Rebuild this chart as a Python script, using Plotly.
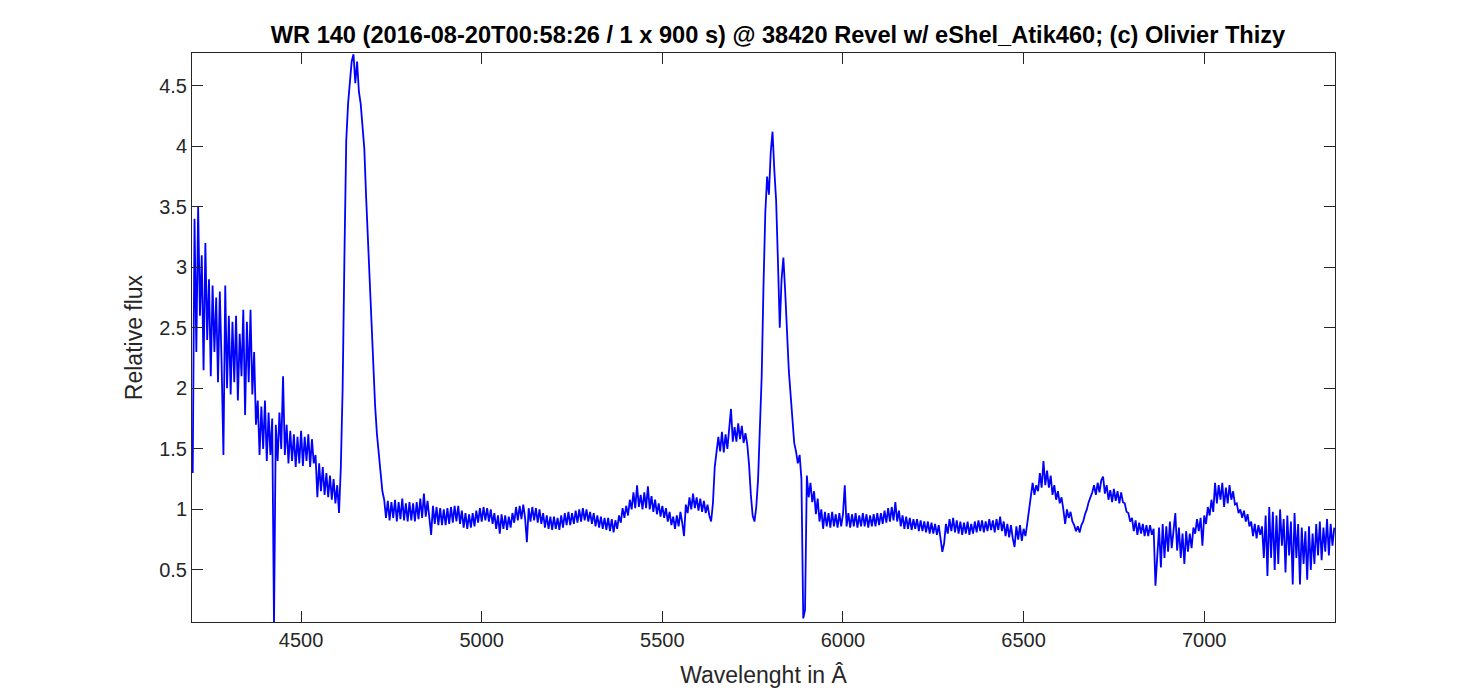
import plotly.graph_objects as go

wl_start = 4200
wl_step = 5
flux = [
    # 4200-4295
    1.30, 3.40, 2.30, 3.50, 2.60, 3.10, 2.15, 3.20, 2.40, 2.90, 2.10, 2.85, 2.30, 2.75, 2.05, 2.80, 2.20, 1.45, 2.85, 2.00,
    # 4300-4395
    2.60, 1.95, 2.55, 2.05, 2.60, 1.90, 2.45, 2.10, 2.65, 1.78, 2.55, 2.05, 2.65, 1.95, 2.30, 1.70, 1.90, 1.45, 1.85, 1.50,
    # 4400-4495
    1.90, 1.40, 1.80, 1.45, 1.75, 0.05, 1.70, 1.40, 1.80, 1.50, 2.10, 1.45, 1.70, 1.38, 1.65, 1.40, 1.62, 1.35, 1.60, 1.38,
    # 4500-4595
    1.65, 1.36, 1.60, 1.40, 1.62, 1.35, 1.58, 1.38, 1.45, 1.10, 1.38, 1.15, 1.35, 1.12, 1.30, 1.10, 1.28, 1.08, 1.25, 1.05,
    # 4600-4695
    1.20, 0.97, 1.35, 2.00, 3.10, 4.05, 4.35, 4.55, 4.70, 4.76, 4.52, 4.70, 4.45, 4.35, 4.15, 3.98, 3.58, 3.22, 2.85, 2.48,
    # 4700-4795
    2.12, 1.85, 1.62, 1.45, 1.25, 1.15, 1.08, 0.93, 1.07, 0.91, 1.06, 0.93, 1.08, 0.90, 1.06, 0.92, 1.09, 0.91, 1.05, 0.90,
    # 4800-4895
    1.06, 0.91, 1.05, 0.90, 1.06, 0.92, 1.09, 0.93, 1.13, 0.94, 1.07, 0.90, 0.79, 1.03, 0.88, 1.02, 0.87, 1.01, 0.87, 1.00,
    # 4900-4995
    0.87, 1.01, 0.88, 1.02, 0.89, 1.03, 0.90, 1.03, 0.88, 0.99, 0.85, 0.97, 0.84, 0.96, 0.85, 0.97, 0.86, 0.99, 0.89, 1.01,
    # 5000-5095
    0.90, 1.02, 0.91, 1.01, 0.90, 1.00, 0.88, 0.97, 0.84, 0.95, 0.80, 0.96, 0.84, 0.95, 0.83, 0.94, 0.85, 0.97, 0.89, 1.02,
    # 5100-5195
    0.91, 1.03, 0.92, 1.04, 0.93, 0.73, 1.01, 0.90, 1.02, 0.91, 1.01, 0.89, 1.00, 0.88, 0.97, 0.85, 0.95, 0.84, 0.94, 0.83,
    # 5200-5295
    0.94, 0.84, 0.93, 0.83, 0.95, 0.85, 0.97, 0.87, 0.98, 0.87, 0.97, 0.88, 0.99, 0.89, 1.00, 0.90, 1.01, 0.91, 1.00, 0.90,
    # 5300-5395
    0.98, 0.88, 0.97, 0.86, 0.95, 0.85, 0.94, 0.84, 0.93, 0.83, 0.93, 0.82, 0.92, 0.81, 0.91, 0.84, 0.95, 0.89, 1.01, 0.93,
    # 5400-5495
    1.03, 0.95, 1.08, 1.00, 1.14, 1.01, 1.20, 1.02, 1.12, 1.00, 1.14, 1.01, 1.19, 1.00, 1.11, 0.98, 1.08, 0.96, 1.05, 0.94,
    # 5500-5595
    1.03, 0.93, 1.01, 0.90, 0.98, 0.87, 0.94, 0.84, 0.95, 0.86, 0.98, 0.89, 0.78, 1.04, 0.97, 1.10, 1.00, 1.13, 1.01, 1.10,
    # 5600-5695
    0.99, 1.09, 0.98, 1.07, 0.97, 1.04, 0.95, 0.90, 1.05, 1.35, 1.50, 1.60, 1.48, 1.64, 1.47, 1.62, 1.50, 1.70, 1.83, 1.56,
    # 5700-5795
    1.68, 1.56, 1.71, 1.58, 1.69, 1.55, 1.63, 1.54, 1.37, 1.12, 0.95, 0.90, 1.02, 1.25, 1.75, 2.10, 2.85, 3.45, 3.75, 3.60,
    # 5800-5895
    3.95, 4.12, 3.80, 3.55, 3.05, 2.50, 2.90, 3.08, 2.80, 2.45, 2.15, 1.95, 1.72, 1.55, 1.48, 1.38, 1.45, 1.25, 0.10, 0.17,
    # 5900-5995
    1.28, 1.10, 1.22, 1.06, 1.15, 0.96, 1.09, 0.90, 1.00, 0.84, 0.98, 0.86, 0.97, 0.85, 0.98, 0.86, 0.96, 0.85, 0.97, 0.86,
    # 6000-6095
    0.96, 1.20, 0.86, 0.97, 0.85, 0.96, 0.86, 0.97, 0.85, 0.95, 0.86, 0.97, 0.86, 0.96, 0.85, 0.95, 0.86, 0.96, 0.86, 0.97,
    # 6100-6195
    0.87, 0.97, 0.88, 0.99, 0.89, 1.01, 0.90, 1.02, 0.91, 1.06, 0.90, 0.99, 0.86, 0.95, 0.84, 0.94, 0.84, 0.93, 0.83, 0.92,
    # 6200-6295
    0.84, 0.92, 0.82, 0.91, 0.82, 0.90, 0.81, 0.90, 0.80, 0.89, 0.80, 0.88, 0.79, 0.87, 0.76, 0.65, 0.72, 0.88, 0.80, 0.92,
    # 6300-6395
    0.82, 0.93, 0.81, 0.91, 0.80, 0.90, 0.79, 0.89, 0.80, 0.90, 0.79, 0.88, 0.80, 0.90, 0.81, 0.91, 0.82, 0.91, 0.81, 0.90,
    # 6400-6495
    0.82, 0.92, 0.83, 0.91, 0.81, 0.92, 0.83, 0.94, 0.82, 0.90, 0.78, 0.88, 0.77, 0.87, 0.76, 0.69, 0.86, 0.75, 0.87, 0.74,
    # 6500-6595
    0.84, 0.78, 0.88, 1.00, 1.12, 1.22, 1.12, 1.20, 1.15, 1.30, 1.18, 1.40, 1.20, 1.32, 1.18, 1.28, 1.12, 1.20, 1.08, 1.15,
    # 6600-6695
    1.05, 1.10, 1.00, 0.88, 1.00, 0.93, 0.98, 0.90, 0.87, 0.82, 0.86, 0.81, 0.87, 0.90, 0.96, 1.00, 1.06, 1.10, 1.14, 1.20,
    # 6700-6795
    1.12, 1.22, 1.14, 1.24, 1.27, 1.13, 1.20, 1.08, 1.16, 1.06, 1.17, 1.07, 1.15, 1.05, 1.14, 1.06, 1.05, 0.98, 0.97, 0.90,
    # 6800-6895
    0.93, 0.82, 0.91, 0.79, 0.89, 0.80, 0.88, 0.78, 0.87, 0.78, 0.87, 0.79, 0.84, 0.37, 0.62, 0.85, 0.52, 0.88, 0.60, 0.86,
    # 6900-6995
    0.65, 0.90, 0.68, 0.85, 0.97, 0.66, 0.85, 0.60, 0.80, 0.55, 0.82, 0.65, 0.80, 0.68, 0.85, 0.80, 0.92, 0.82, 0.93, 0.70,
    # 7000-7095
    0.95, 0.88, 1.02, 0.95, 1.08, 0.98, 1.22, 1.05, 1.20, 1.08, 1.22, 1.02, 1.18, 1.05, 1.20, 1.08, 1.15, 1.04, 1.05, 0.97,
    # 7100-7195
    1.00, 0.93, 0.99, 0.90, 0.96, 0.86, 0.90, 0.78, 0.88, 0.76, 0.87, 0.79, 0.86, 0.60, 0.95, 0.45, 1.02, 0.60, 0.98, 0.50,
    # 7200-7295
    0.95, 0.55, 1.00, 0.70, 0.92, 0.48, 0.95, 0.62, 0.90, 0.38, 0.97, 0.60, 0.88, 0.38, 0.85, 0.55, 0.82, 0.42, 0.86, 0.50,
    # 7300-7360
    0.80, 0.55, 0.88, 0.62, 0.90, 0.58, 0.85, 0.65, 0.92, 0.62, 0.88, 0.70, 0.85,
]
wavelength = [wl_start + wl_step * i for i in range(len(flux))]

x_ticks = [4500, 5000, 5500, 6000, 6500, 7000]
y_ticks = [0.5, 1, 1.5, 2, 2.5, 3, 3.5, 4, 4.5]

title_text = "WR 140 (2016-08-20T00:58:26 / 1 x 900 s) @ 38420 Revel w/ eShel_Atik460; (c) Olivier Thizy"
x_title = "Wavelenght in Â"
y_title = "Relative flux"

ink = "#262626"
font_family = "Liberation Sans, Arial, Helvetica, sans-serif"

fig = go.Figure()
fig.add_trace(go.Scatter(
    x=wavelength, y=flux, mode="lines",
    line=dict(color="rgb(0,0,255)", width=1.8),
    showlegend=False, hoverinfo="x+y",
))

axis_common = dict(
    showline=True, linecolor=ink, linewidth=1, mirror="allticks",
    ticks="inside", ticklen=11, tickwidth=1, tickcolor=ink,
    showgrid=False, zeroline=False,
    tickfont=dict(family=font_family, size=20, color=ink),
)

# page body has an 8px margin, so the figure is sized to sit inside it
fig.update_layout(
    width=1467, height=690,
    margin=dict(l=184, r=140, t=45, b=76),
    paper_bgcolor="white", plot_bgcolor="white",
    font=dict(family=font_family, color=ink),
    title=dict(
        text="<b>" + title_text + "</b>",
        x=(778 - 8) / 1467, xref="container", xanchor="center",
        y=1 - (35 - 8) / 690, yref="container", yanchor="middle",
        font=dict(family=font_family, size=23.6, color="#000000"),
    ),
    xaxis=dict(
        range=[4198, 7362], tickvals=x_ticks, ticktext=[str(v) for v in x_ticks],
        title=dict(text=x_title, font=dict(family=font_family, size=23, color=ink), standoff=16),
        **axis_common,
    ),
    yaxis=dict(
        range=[0.07, 4.77], tickvals=y_ticks, ticktext=[f"{v:g}" for v in y_ticks],
        title=dict(text=y_title, font=dict(family=font_family, size=23, color=ink), standoff=10),
        **axis_common,
    ),
)

fig.write_html("out.html")
